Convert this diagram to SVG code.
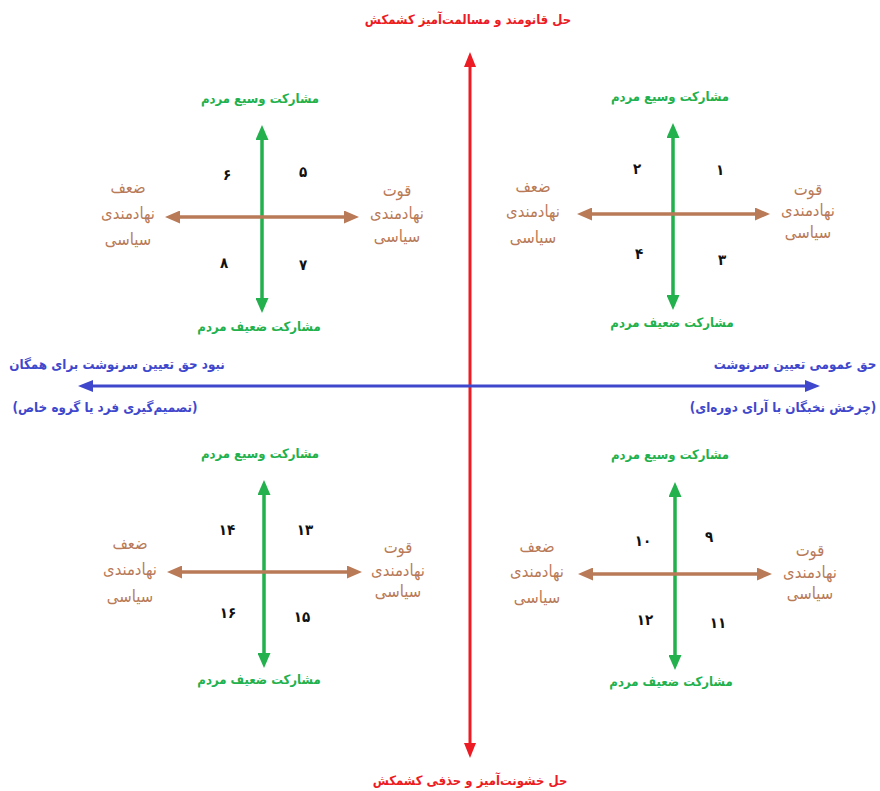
<svg xmlns="http://www.w3.org/2000/svg" width="880" height="791" viewBox="0 0 880 791">
<defs>
<style>
text{font-family:"DejaVu Sans Condensed","DejaVu Sans",sans-serif;direction:rtl;text-anchor:middle}
.red{fill:#ed1c24;font-size:13px;font-weight:bold}
.blue{fill:#3f48cc;font-size:13.3px;font-weight:bold}
.grn{fill:#22b14c;font-size:13px;font-weight:bold}
.brn{fill:#b97a57;font-size:16.5px}
.num{fill:#111;font-size:15px;font-weight:bold}
.lr{stroke:#ed1c24;stroke-width:3;fill:none}
.lb{stroke:#3f48cc;stroke-width:3;fill:none}
.lg{stroke:#22b14c;stroke-width:3.5;fill:none}
.ln{stroke:#b97a57;stroke-width:3.5;fill:none}
</style>
<marker id="mr" markerUnits="userSpaceOnUse" markerWidth="15" markerHeight="12" refX="3" refY="6" orient="auto-start-reverse"><path d="M0,0 L15,6 L0,12 z" fill="#ed1c24"/></marker>
<marker id="mb" markerUnits="userSpaceOnUse" markerWidth="15" markerHeight="12" refX="3" refY="6" orient="auto-start-reverse"><path d="M0,0 L15,6 L0,12 z" fill="#3f48cc"/></marker>
<marker id="mg" markerUnits="userSpaceOnUse" markerWidth="15" markerHeight="13" refX="3" refY="6.5" orient="auto-start-reverse"><path d="M0,0 L15,6.5 L0,13 z" fill="#22b14c"/></marker>
<marker id="mn" markerUnits="userSpaceOnUse" markerWidth="15" markerHeight="13" refX="3" refY="6.5" orient="auto-start-reverse"><path d="M0,0 L15,6.5 L0,13 z" fill="#b97a57"/></marker>
</defs>
<rect width="880" height="791" fill="#fff"/>
<g id="connectors">
<line class="lr" x1="470" y1="64" x2="470" y2="746" marker-start="url(#mr)" marker-end="url(#mr)"/>
<line class="lb" x1="90" y1="386" x2="808" y2="386" marker-start="url(#mb)" marker-end="url(#mb)"/>
<line class="lg" x1="262" y1="137" x2="262" y2="301" marker-start="url(#mg)" marker-end="url(#mg)"/>
<line class="ln" x1="177" y1="217" x2="347" y2="217" marker-start="url(#mn)" marker-end="url(#mn)"/>
<line class="lg" x1="673" y1="135" x2="673" y2="298" marker-start="url(#mg)" marker-end="url(#mg)"/>
<line class="ln" x1="589" y1="214" x2="758" y2="214" marker-start="url(#mn)" marker-end="url(#mn)"/>
<line class="lg" x1="264" y1="492" x2="264" y2="656" marker-start="url(#mg)" marker-end="url(#mg)"/>
<line class="ln" x1="179" y1="572" x2="350" y2="572" marker-start="url(#mn)" marker-end="url(#mn)"/>
<line class="lg" x1="675" y1="494" x2="675" y2="658" marker-start="url(#mg)" marker-end="url(#mg)"/>
<line class="ln" x1="590" y1="574" x2="760" y2="574" marker-start="url(#mn)" marker-end="url(#mn)"/>
</g>
<g id="title-top"><text class="red" x="468" y="24">حل قانومند و مسالمت‌آمیز کشمکش</text></g>
<g id="title-bottom"><text class="red" x="470" y="785">حل خشونت‌آمیز و حذفی کشمکش</text></g>
<g id="axis-left"><text class="blue" x="117" y="369">نبود حق تعیین سرنوشت برای همگان</text><text class="blue" x="105" y="412">(تصمیم‌گیری فرد یا گروه خاص)</text></g>
<g id="axis-right"><text class="blue" x="795" y="369">حق عمومی تعیین سرنوشت</text><text class="blue" x="783" y="412">(چرخش نخبگان با آرای دوره‌ای)</text></g>

<g id="q1">
<text class="grn" x="260" y="103">مشارکت وسیع مردم</text>
<text class="grn" x="259" y="331">مشارکت ضعیف مردم</text>
<text class="brn" x="128"><tspan x="128" y="193">ضعف</tspan><tspan x="128" y="219">نهادمندی</tspan><tspan x="128" y="245">سیاسی</tspan></text>
<text class="brn" x="397"><tspan x="397" y="196">قوت</tspan><tspan x="397" y="219">نهادمندی</tspan><tspan x="397" y="242">سیاسی</tspan></text>
<text class="num" x="227" y="180">۶</text><text class="num" x="303" y="177">۵</text><text class="num" x="224" y="268">۸</text><text class="num" x="303" y="270">۷</text>
</g>
<g id="q2">
<text class="grn" x="670" y="101">مشارکت وسیع مردم</text>
<text class="grn" x="672" y="327">مشارکت ضعیف مردم</text>
<text class="brn" x="533"><tspan x="533" y="192">ضعف</tspan><tspan x="533" y="217">نهادمندی</tspan><tspan x="533" y="243">سیاسی</tspan></text>
<text class="brn" x="808"><tspan x="808" y="195">قوت</tspan><tspan x="808" y="216">نهادمندی</tspan><tspan x="808" y="238">سیاسی</tspan></text>
<text class="num" x="637" y="174">۲</text><text class="num" x="720" y="175">۱</text><text class="num" x="639" y="259">۴</text><text class="num" x="722" y="265">۳</text>
</g>
<g id="q3">
<text class="grn" x="260" y="458">مشارکت وسیع مردم</text>
<text class="grn" x="259" y="684">مشارکت ضعیف مردم</text>
<text class="brn" x="130"><tspan x="130" y="549">ضعف</tspan><tspan x="130" y="575">نهادمندی</tspan><tspan x="130" y="602">سیاسی</tspan></text>
<text class="brn" x="398"><tspan x="398" y="553">قوت</tspan><tspan x="398" y="576">نهادمندی</tspan><tspan x="398" y="597">سیاسی</tspan></text>
<text class="num" x="227" y="535">۱۴</text><text class="num" x="305" y="535">۱۳</text><text class="num" x="228" y="618">۱۶</text><text class="num" x="302" y="622">۱۵</text>
</g>
<g id="q4">
<text class="grn" x="670" y="459">مشارکت وسیع مردم</text>
<text class="grn" x="671" y="686">مشارکت ضعیف مردم</text>
<text class="brn" x="537"><tspan x="537" y="552">ضعف</tspan><tspan x="537" y="577">نهادمندی</tspan><tspan x="537" y="603">سیاسی</tspan></text>
<text class="brn" x="810"><tspan x="810" y="556">قوت</tspan><tspan x="810" y="578">نهادمندی</tspan><tspan x="810" y="599">سیاسی</tspan></text>
<text class="num" x="643" y="546">۱۰</text><text class="num" x="709" y="542">۹</text><text class="num" x="645" y="625">۱۲</text><text class="num" x="718" y="628">۱۱</text>
</g>
</svg>
